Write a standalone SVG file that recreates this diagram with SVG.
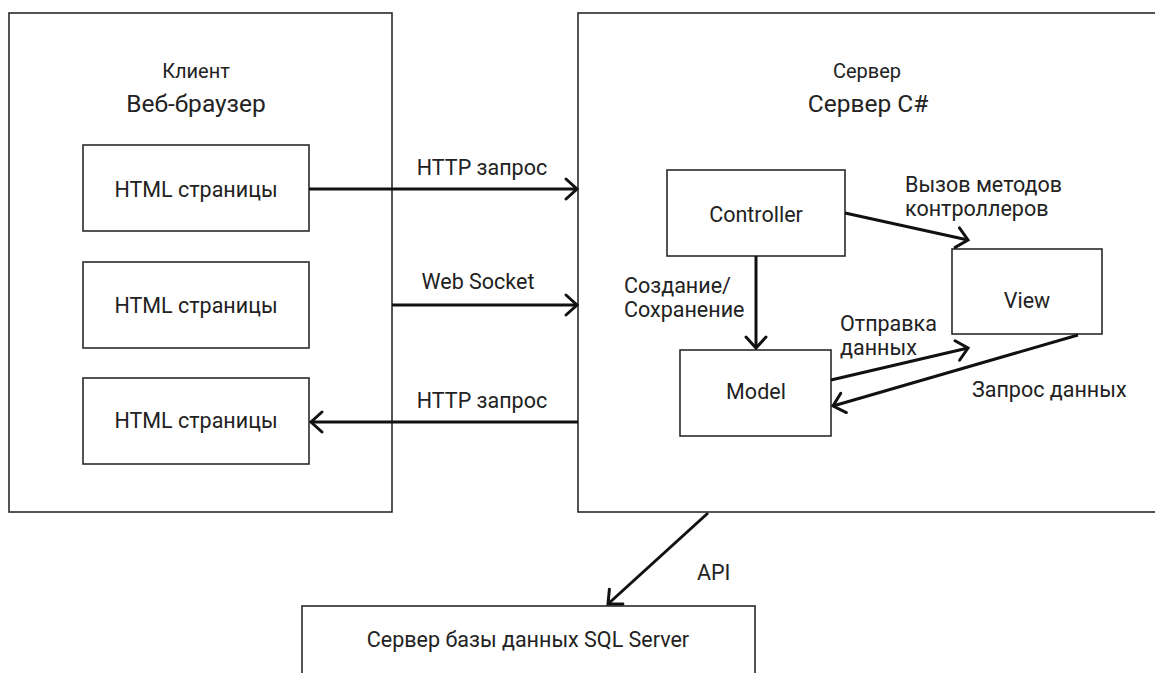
<svg xmlns="http://www.w3.org/2000/svg" width="1155" height="673" viewBox="0 0 1155 673">
  <style>
    .box { fill: #ffffff; stroke: #2a2a2a; stroke-width: 1.6; }
    .t { font-family: Roboto, "Liberation Sans", sans-serif; font-size: 21.5px; fill: #222222; }
    .c { text-anchor: middle; }
    .sub { font-size: 20px; }
    .big { font-size: 24.5px; }
    .conn { stroke: #111111; stroke-width: 3; fill: none; marker-end: url(#arr); }
  </style>
  <defs>
    <marker id="arr" markerUnits="userSpaceOnUse" viewBox="-16 -14 20 28" refX="0" refY="0" markerWidth="20" markerHeight="28" orient="auto" overflow="visible">
      <path d="M-11,-10 L0,0 L-11,10" fill="none" stroke="#111111" stroke-width="3" stroke-linecap="round" stroke-linejoin="miter"/>
    </marker>
  </defs>
  <rect width="1155" height="673" fill="#ffffff"/>

  <g id="client">
    <rect class="box" x="9" y="13" width="383" height="499"/>
    <text class="t c sub" x="196" y="78">Клиент</text>
    <text class="t c big" x="196" y="112">Веб-браузер</text>
  </g>
  <g id="html1">
    <rect class="box" x="83" y="145" width="226" height="86"/>
    <text class="t c" x="196" y="197">HTML страницы</text>
  </g>
  <g id="html2">
    <rect class="box" x="83" y="262" width="226" height="86"/>
    <text class="t c" x="196" y="313">HTML страницы</text>
  </g>
  <g id="html3">
    <rect class="box" x="83" y="378" width="226" height="86"/>
    <text class="t c" x="196" y="428">HTML страницы</text>
  </g>

  <g id="server">
    <rect class="box" x="578" y="13" width="590" height="499"/>
    <text class="t c sub" x="867" y="78">Сервер</text>
    <text class="t c big" x="868" y="112">Сервер C#</text>
  </g>
  <g id="controller">
    <rect class="box" x="667" y="170" width="178" height="86"/>
    <text class="t c" x="756" y="222">Controller</text>
  </g>
  <g id="view">
    <rect class="box" x="952" y="249" width="150" height="85"/>
    <text class="t c" x="1027" y="308">View</text>
  </g>
  <g id="model">
    <rect class="box" x="680" y="350" width="151" height="86"/>
    <text class="t c" x="756" y="399">Model</text>
  </g>

  <g id="db">
    <rect class="box" x="302" y="606" width="453" height="90"/>
    <text class="t c" x="528" y="647">Сервер базы данных SQL Server</text>
  </g>

  <g id="connectors">
    <line class="conn" x1="309" y1="189" x2="577" y2="189"/>
    <line class="conn" x1="392" y1="305" x2="577" y2="305"/>
    <line class="conn" x1="578" y1="422" x2="311" y2="422"/>
    <line class="conn" x1="756" y1="256" x2="756" y2="348"/>
    <line class="conn" x1="845" y1="213" x2="968" y2="240"/>
    <line class="conn" x1="831" y1="380" x2="968" y2="348"/>
    <line class="conn" x1="1078" y1="335" x2="833" y2="406"/>
    <line class="conn" x1="708" y1="513" x2="608" y2="604"/>
  </g>

  <g id="labels">
    <text class="t c" x="482" y="175">HTTP запрос</text>
    <text class="t c" x="478" y="289">Web Socket</text>
    <text class="t c" x="482" y="408">HTTP запрос</text>
    <text class="t" x="624" y="293">Создание/</text>
    <text class="t" x="624" y="317">Сохранение</text>
    <text class="t" x="905" y="192">Вызов методов</text>
    <text class="t" x="905" y="216">контроллеров</text>
    <text class="t" x="840" y="331">Отправка</text>
    <text class="t" x="840" y="355">данных</text>
    <text class="t" x="972" y="397">Запрос данных</text>
    <text class="t" x="697" y="580">API</text>
  </g>
</svg>
